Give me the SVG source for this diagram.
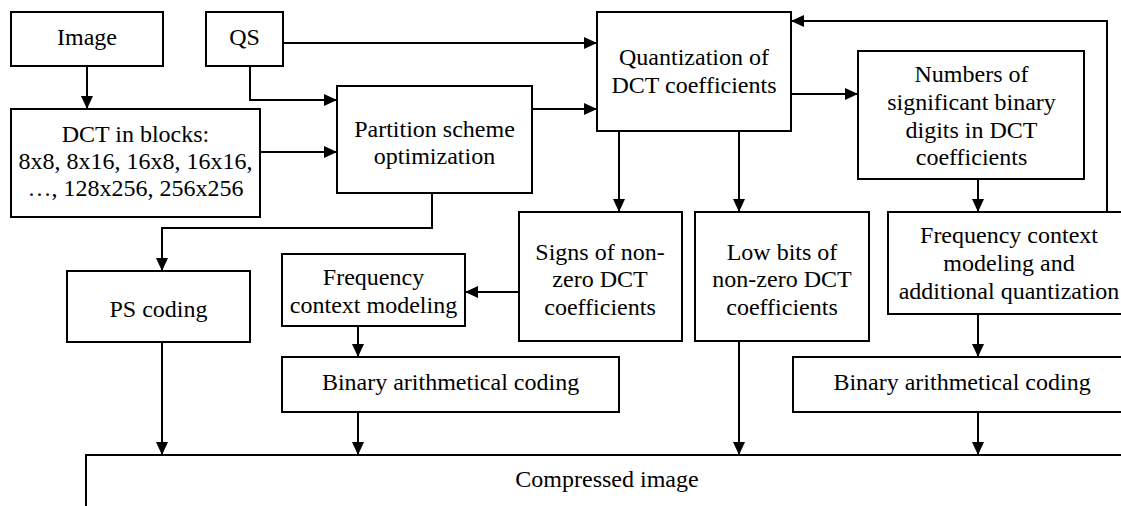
<svg xmlns="http://www.w3.org/2000/svg" width="1121" height="506" viewBox="0 0 1121 506">
<style>
.box{fill:#fff;stroke:#000;stroke-width:2}
.t{font-family:'Liberation Serif','Times New Roman',serif;font-size:24px;fill:#000;text-anchor:middle}
.c{fill:none;stroke:#000;stroke-width:2}
</style>
<defs>
<marker id="ah" viewBox="0 0 13 12" refX="13" refY="6" markerWidth="13" markerHeight="12" markerUnits="userSpaceOnUse" orient="auto">
<path d="M0,0 L13,6 L0,12 Z" fill="#000"/>
</marker>
</defs>
<rect width="1121" height="506" fill="#fff"/>
<g id="n-image"><rect class="box" x="11" y="12" width="152" height="54"/><text class="t" x="87" y="45">Image</text></g>
<g id="n-qs"><rect class="box" x="206" y="12" width="77" height="54"/><text class="t" x="244.5" y="45">QS</text></g>
<g id="n-dct"><rect class="box" x="11" y="109" width="249" height="108"/>
<text class="t" x="135.5" y="142">DCT in blocks:</text>
<text class="t" x="135.5" y="169">8x8, 8x16, 16x8, 16x16,</text>
<text class="t" x="135.5" y="196">…, 128x256, 256x256</text></g>
<g id="n-partition"><rect class="box" x="337" y="86" width="195" height="107"/>
<text class="t" x="434.5" y="137">Partition scheme</text>
<text class="t" x="434.5" y="164">optimization</text></g>
<g id="n-quant"><rect class="box" x="597" y="12" width="194" height="119"/>
<text class="t" x="694" y="65">Quantization of</text>
<text class="t" x="694" y="93">DCT coefficients</text></g>
<g id="n-numbers"><rect class="box" x="858" y="51" width="226" height="128"/>
<text class="t" x="971.5" y="82">Numbers of</text>
<text class="t" x="971.5" y="109.5">significant binary</text>
<text class="t" x="971.5" y="137.5">digits in DCT</text>
<text class="t" x="971.5" y="165">coefficients</text></g>
<g id="n-ps"><rect class="box" x="67" y="271" width="183" height="71"/><text class="t" x="158.5" y="317">PS coding</text></g>
<g id="n-signs"><rect class="box" x="519" y="212" width="163" height="129"/>
<text class="t" x="600" y="259.5">Signs of non-</text>
<text class="t" x="600" y="287">zero DCT</text>
<text class="t" x="600" y="315">coefficients</text></g>
<g id="n-low"><rect class="box" x="695" y="212" width="174" height="129"/>
<text class="t" x="782" y="259.5">Low bits of</text>
<text class="t" x="782" y="287">non-zero DCT</text>
<text class="t" x="782" y="315">coefficients</text></g>
<g id="n-freqL"><rect class="box" x="282" y="254" width="183" height="72"/>
<text class="t" x="373.5" y="285">Frequency</text>
<text class="t" x="373.5" y="312.5">context modeling</text></g>
<g id="n-freqR"><rect class="box" x="888" y="212" width="250" height="102"/>
<text class="t" x="1009" y="242.5">Frequency context</text>
<text class="t" x="1009" y="270.5">modeling and</text>
<text class="t" x="1009" y="299">additional quantization</text></g>
<g id="n-binL"><rect class="box" x="282" y="357" width="337" height="55"/><text class="t" x="450.5" y="390">Binary arithmetical coding</text></g>
<g id="n-binR"><rect class="box" x="793" y="357" width="340" height="55"/><text class="t" x="962" y="390">Binary arithmetical coding</text></g>
<g id="n-compressed"><rect class="box" x="86" y="455" width="1100" height="100"/><text class="t" x="607" y="487">Compressed image</text></g>
<g id="connectors" class="c">
<path class="c" d="M87,66 V109" marker-end="url(#ah)"/>
<path class="c" d="M283,43 H597" marker-end="url(#ah)"/>
<path class="c" d="M250,66 V100 H337" marker-end="url(#ah)"/>
<path class="c" d="M260,152 H337" marker-end="url(#ah)"/>
<path class="c" d="M532,109 H597" marker-end="url(#ah)"/>
<path class="c" d="M432,193 V228 H162 V271" marker-end="url(#ah)"/>
<path class="c" d="M791,94 H858" marker-end="url(#ah)"/>
<path class="c" d="M1107,212 V21 H791" marker-end="url(#ah)"/>
<path class="c" d="M619,131 V212" marker-end="url(#ah)"/>
<path class="c" d="M739,131 V212" marker-end="url(#ah)"/>
<path class="c" d="M978,179 V212" marker-end="url(#ah)"/>
<path class="c" d="M519,292 H465" marker-end="url(#ah)"/>
<path class="c" d="M358,326 V357" marker-end="url(#ah)"/>
<path class="c" d="M978,314 V357" marker-end="url(#ah)"/>
<path class="c" d="M162,342 V455" marker-end="url(#ah)"/>
<path class="c" d="M358,412 V455" marker-end="url(#ah)"/>
<path class="c" d="M739,341 V455" marker-end="url(#ah)"/>
<path class="c" d="M978,412 V455" marker-end="url(#ah)"/>
</g>
</svg>
